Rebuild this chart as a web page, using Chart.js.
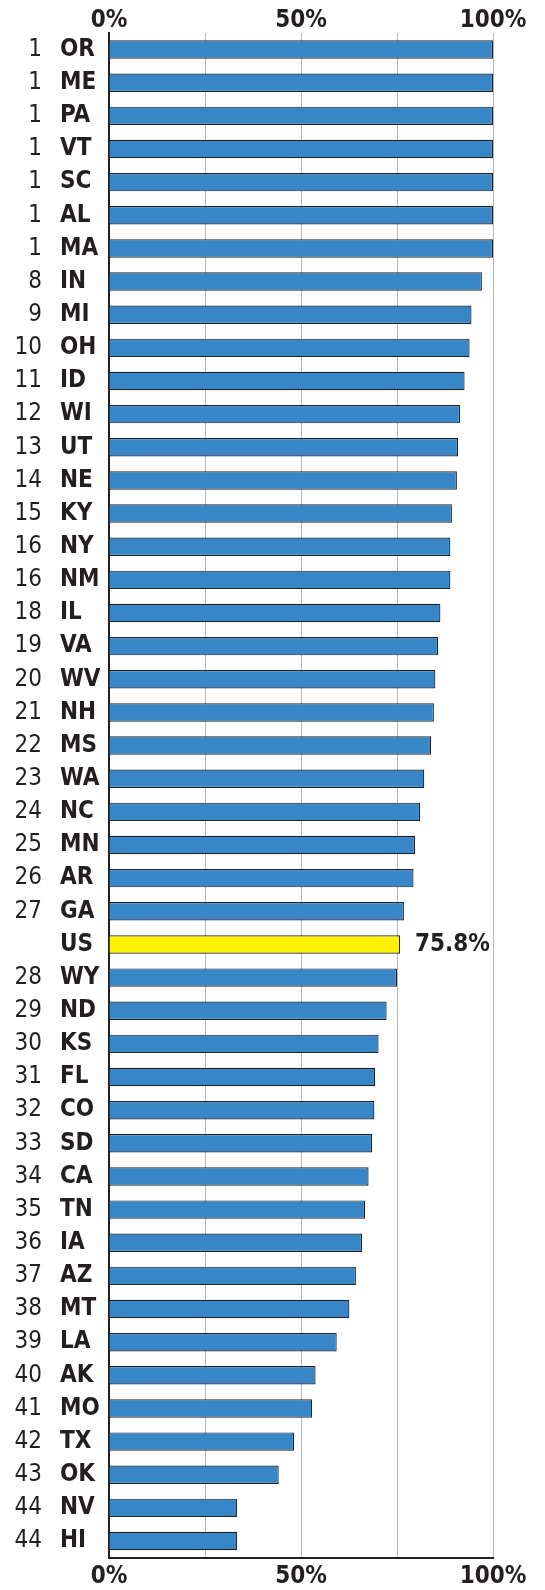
<!DOCTYPE html>
<html>
<head>
<meta charset="utf-8">
<script src="https://cdn.jsdelivr.net/npm/chart.js@4/dist/chart.umd.min.js"></script>
<style>
  html, body { margin: 0; padding: 0; background: #ffffff; }
  #wrap { width: 545px; height: 1590px; position: relative; }
</style>
</head>
<body>
<div id="wrap"><canvas id="c"></canvas></div>
<script>
const states = ['OR','ME','PA','VT','SC','AL','MA','IN','MI','OH','ID','WI','UT','NE','KY','NY','NM','IL','VA','WV','NH','MS','WA','NC','MN','AR','GA','US','WY','ND','KS','FL','CO','SD','CA','TN','IA','AZ','MT','LA','AK','MO','TX','OK','NV','HI'];
const ranks = ['1','1','1','1','1','1','1','8','9','10','11','12','13','14','15','16','16','18','19','20','21','22','23','24','25','26','27','','28','29','30','31','32','33','34','35','36','37','38','39','40','41','42','43','44','44'];
const values = [100,100,100,100,100,100,100,97.1,94.4,93.9,92.6,91.4,90.9,90.6,89.3,88.9,88.9,86.3,85.7,85.0,84.6,83.9,82.1,81.0,79.7,79.3,76.8,75.8,75.0,72.3,70.2,69.3,69.1,68.5,67.6,66.7,65.9,64.3,62.6,59.3,53.8,52.9,48.2,44.2,33.4,33.4];
const axisTicks = [0, 50, 100];
const highlight = 'US';

const FONT = "'Liberation Sans Narrow', 'DejaVu Sans Condensed', 'Arial Narrow', sans-serif";
const INK = '#231f20';
const BLUE = '#3787c8';
const YELLOW = '#fff200';

const valueLabel = {
  id: 'valueLabel',
  afterDatasetsDraw(chart) {
    const i = states.indexOf(highlight);
    const bar = chart.getDatasetMeta(0).data[i];
    const ctx = chart.ctx;
    ctx.save();
    ctx.font = "bold 24px " + FONT;
    ctx.fillStyle = INK;
    ctx.textAlign = 'left';
    ctx.textBaseline = 'middle';
    ctx.fillText(values[i].toFixed(1) + '%', bar.x + 15, bar.y);
    ctx.restore();
  }
};

new Chart(document.getElementById('c'), {
  type: 'bar',
  data: {
    labels: states,
    datasets: [{
      data: values,
      backgroundColor: states.map(s => s === highlight ? YELLOW : BLUE),
      borderColor: INK,
      borderWidth: 1.2,
      borderSkipped: 'start',
      barPercentage: 0.556,
      categoryPercentage: 1.0
    }]
  },
  options: {
    indexAxis: 'y',
    responsive: true,
    maintainAspectRatio: false,
    animation: false,
    layout: { padding: { left: 0, right: 52, top: 0, bottom: 0 } },
    plugins: { legend: { display: false }, tooltip: { enabled: false } },
    scales: {
      x: {
        type: 'linear', position: 'bottom', min: 0, max: 100,
        afterFit: s => { s.height = 30; },
        ticks: {
          stepSize: 25, autoSkip: false, maxRotation: 0, padding: 7,
          callback: v => axisTicks.includes(v) ? v + '%' : '',
          font: { family: FONT, size: 24, weight: 'bold', lineHeight: 1 },
          color: INK
        },
        grid: {
          drawTicks: false,
          color: ctx => (ctx.tick && ctx.tick.value === 0) ? 'rgba(0,0,0,0)' : '#b8b8b8',
          lineWidth: 1
        },
        border: { display: true, color: INK, width: 2 }
      },
      x2: {
        type: 'linear', position: 'top', min: 0, max: 100,
        afterFit: s => { s.height = 33; },
        ticks: {
          stepSize: 50, autoSkip: false, maxRotation: 0, padding: 0,
          callback: v => v + '%',
          font: { family: FONT, size: 24, weight: 'bold', lineHeight: 1 },
          color: INK
        },
        grid: { display: false, drawTicks: false },
        border: { display: false }
      },
      y: {
        type: 'category', position: 'left', weight: 0,
        afterFit: s => { s.width = 49; },
        ticks: {
          autoSkip: false, crossAlign: 'far', padding: 0,
          font: { family: FONT, size: 24, weight: 'bold' },
          color: INK
        },
        grid: { display: false, drawTicks: false },
        border: { display: true, color: INK, width: 2 }
      },
      y2: {
        type: 'category', position: 'left', weight: 10, offset: true,
        labels: ranks,
        afterFit: s => { s.width = 60; },
        ticks: {
          autoSkip: false, crossAlign: 'near', padding: 18,
          font: { family: FONT, size: 24, weight: 'normal' },
          color: INK
        },
        grid: { display: false, drawTicks: false },
        border: { display: false }
      }
    }
  },
  plugins: [valueLabel]
});
</script>
</body>
</html>
